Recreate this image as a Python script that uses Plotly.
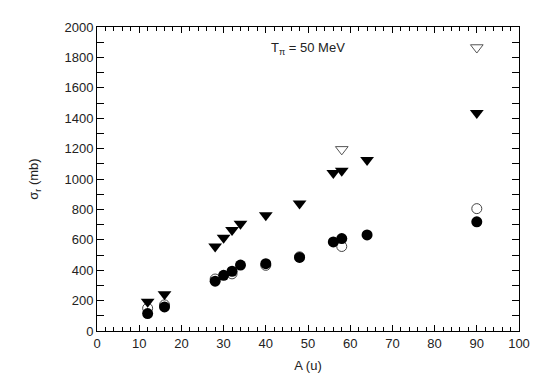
import plotly.graph_objects as go

# Filled circles
A_fc = [12, 16, 28, 30, 32, 34, 40, 48, 56, 58, 64, 90]
s_fc = [115, 158, 328, 366, 393, 434, 443, 484, 586, 608, 632, 718]
# Open circles
A_oc = [12, 16, 28, 32, 40, 48, 58, 90]
s_oc = [150, 172, 342, 376, 432, 488, 556, 805]
# Filled triangles
A_ft = [12, 16, 28, 30, 32, 34, 40, 48, 56, 58, 64, 90]
s_ft = [192, 241, 556, 614, 664, 706, 762, 838, 1040, 1055, 1125, 1435]
# Open triangles
A_ot = [58, 90]
s_ot = [1195, 1865]

font = dict(family="Liberation Sans, Arial, sans-serif", size=13, color="#222")

fig = go.Figure()
fig.add_trace(go.Scatter(x=A_oc, y=s_oc, mode="markers",
                         marker=dict(symbol="circle-open", size=10, color="#444", line=dict(width=1))))
fig.add_trace(go.Scatter(x=A_ot, y=s_ot, mode="markers",
                         marker=dict(symbol="triangle-down-open", size=11, color="#555", line=dict(width=1))))
fig.add_trace(go.Scatter(x=A_fc, y=s_fc, mode="markers",
                         marker=dict(symbol="circle", size=11, color="black")))
fig.add_trace(go.Scatter(x=A_ft, y=s_ft, mode="markers",
                         marker=dict(symbol="triangle-down", size=12, color="black")))

fig.add_annotation(x=50, y=1858, xref="x", yref="y", showarrow=False,
                   text="T<sub>π</sub> = 50 MeV", font=dict(family=font["family"], size=13, color="#222"))

axis_common = dict(showline=True, linecolor="black", linewidth=1, mirror="allticks",
                   ticks="inside", tickcolor="black", showgrid=False, zeroline=False,
                   tickfont=font)

fig.update_xaxes(range=[0, 100], dtick=10, tick0=0, ticklen=6,
                 minor=dict(dtick=2, ticks="inside", ticklen=4, tickcolor="black", showgrid=False),
                 title=dict(text="A (u)", font=font, standoff=11), **axis_common)
fig.update_yaxes(range=[0, 2000], dtick=200, tick0=0, ticklen=7,
                 minor=dict(dtick=100, ticks="inside", ticklen=7, tickcolor="black", showgrid=False),
                 title=dict(text="σ<sub>r</sub> (mb)", font=font, standoff=22), **axis_common)

fig.update_layout(width=557, height=389, showlegend=False,
                  plot_bgcolor="white", paper_bgcolor="white",
                  margin=dict(l=89, r=46, t=16, b=66))

fig.write_html("out.html")
